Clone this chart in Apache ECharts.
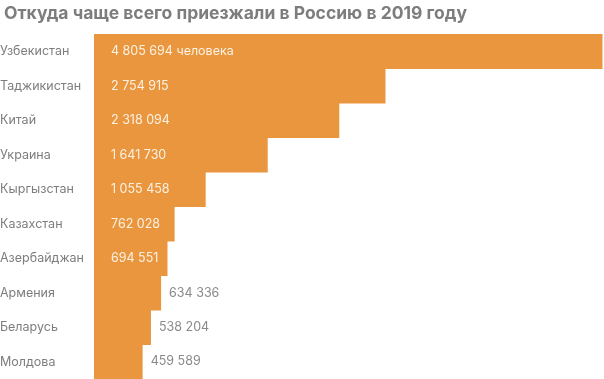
<!DOCTYPE html>
<html>
<head>
<meta charset="utf-8">
<script src="https://cdn.jsdelivr.net/npm/echarts@6/dist/echarts.min.js"></script>
<style>
html,body{margin:0;padding:0;background:#fff;}
#c{width:604px;height:379px;}
</style>
</head>
<body>
<div id="c"></div>
<script>
const categories = ["Узбекистан","Таджикистан","Китай","Украина","Кыргызстан","Казахстан","Азербайджан","Армения","Беларусь","Молдова"];
const values = [4805694,2754915,2318094,1641730,1055458,762028,694551,634336,538204,459589];
const insideCount = 7; // labels drawn inside the bar for the first 7 rows
const suffix = " человека";

function fmt(v){ return String(v).replace(/\B(?=(\d{3})+(?!\d))/g, " "); }

const FONT = "Inter, Roboto, sans-serif";
const seriesData = values.map((v,i)=>{
  const inside = i < insideCount;
  return {
    value: v,
    label: inside ? {
      position: 'insideLeft', distance: 17, color: '#fdf1e2'
    } : {
      position: 'right', distance: 8, color: '#8a8a8a'
    }
  };
});

const chart = echarts.init(document.getElementById('c'), null, {renderer:'canvas'});
chart.setOption({
  animation: false,
  title: {
    text: "Откуда чаще всего приезжали в Россию в 2019 году",
    left: -1, top: 0,
    textStyle: {fontFamily: FONT, fontWeight: 'bold', fontSize: 17.5, color: '#7d7d7d'}
  },
  grid: {left: 94, right: 0, top: 34, bottom: 0, containLabel: false, outerBoundsMode: 'none'},
  xAxis: {type: 'value', min: 0, max: 4820000, show: false},
  yAxis: {
    type: 'category', data: categories, inverse: true,
    axisLine: {show: false}, axisTick: {show: false},
    axisLabel: {
      inside: false, margin: 94, align: 'left',
      fontFamily: FONT, fontSize: 12.5, color: '#7d7d7d'
    }
  },
  series: [{
    type: 'bar', data: seriesData, barWidth: '103%',
    itemStyle: {color: '#E9963F'},
    label: {
      show: true, fontFamily: FONT, fontSize: 12.5,
      formatter: p => fmt(p.value) + (p.dataIndex === 0 ? suffix : '')
    }
  }]
});
</script>
</body>
</html>
